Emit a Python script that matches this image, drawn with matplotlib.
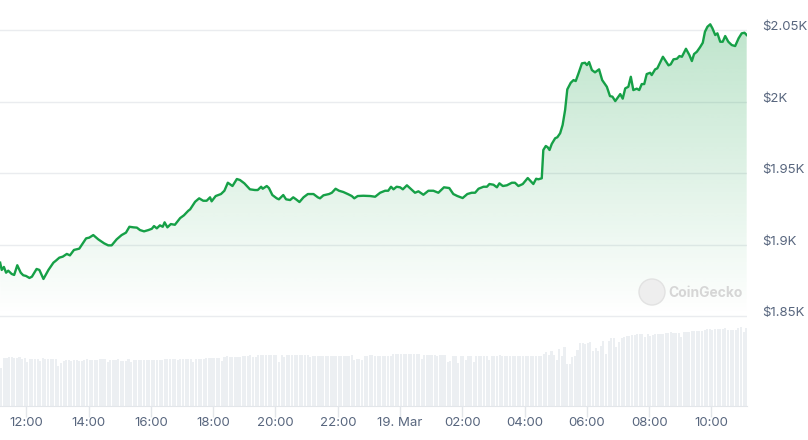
import numpy as np
import matplotlib.pyplot as plt
from matplotlib.colors import to_rgb
from matplotlib.patches import PathPatch, Ellipse

# price line, hours counted from 18 Mar 00:00
hours = [11.16, 11.21, 11.28, 11.35, 11.42, 11.53, 11.61, 11.71, 11.82, 11.90,
         11.99, 12.10, 12.18, 12.33, 12.42, 12.55, 12.71, 12.87, 12.95, 13.06,
         13.17, 13.30, 13.40, 13.53, 13.70, 13.92, 14.02, 14.15, 14.31, 14.50,
         14.63, 14.74, 14.90, 15.06, 15.20, 15.31, 15.44, 15.55, 15.65, 15.78,
         15.92, 16.03, 16.10, 16.19, 16.29, 16.38, 16.44, 16.53, 16.64, 16.77,
         16.94, 17.06, 17.20, 17.26, 17.42, 17.55, 17.68, 17.79, 17.90, 17.95,
         18.08, 18.25, 18.36, 18.47, 18.62, 18.76, 18.86, 19.00, 19.18, 19.34,
         19.43, 19.54, 19.59, 19.72, 19.79, 19.90, 20.04, 20.11, 20.25, 20.34,
         20.47, 20.57, 20.66, 20.77, 20.90, 21.04, 21.22, 21.36, 21.43, 21.54,
         21.72, 21.81, 21.93, 22.04, 22.18, 22.34, 22.45, 22.53, 22.64, 22.82,
         23.04, 23.20, 23.36, 23.52, 23.62, 23.71, 23.79, 23.89, 24.00, 24.09,
         24.22, 24.34, 24.48, 24.59, 24.75, 24.91, 25.07, 25.23, 25.41, 25.58,
         25.71, 25.84, 26.01, 26.16, 26.30, 26.41, 26.52, 26.68, 26.79, 26.87,
         27.00, 27.11, 27.19, 27.30, 27.43, 27.59, 27.69, 27.80, 27.94, 28.10,
         28.18, 28.28, 28.37, 28.44, 28.55, 28.60, 28.68, 28.74, 28.80, 28.87,
         28.98, 29.05, 29.14, 29.22, 29.30, 29.37, 29.48, 29.57, 29.64, 29.73,
         29.84, 29.94, 30.00, 30.07, 30.16, 30.26, 30.39, 30.49, 30.64, 30.74,
         30.82, 30.91, 31.01, 31.07, 31.15, 31.23, 31.33, 31.41, 31.49, 31.60,
         31.68, 31.76, 31.84, 31.92, 32.03, 32.08, 32.19, 32.26, 32.44, 32.51,
         32.62, 32.69, 32.78, 32.89, 32.97, 33.05, 33.18, 33.29, 33.37, 33.44,
         33.53, 33.63, 33.72, 33.79, 33.87, 33.96, 34.03, 34.12, 34.19, 34.28,
         34.36, 34.44, 34.54, 34.65, 34.76, 34.87, 34.97, 35.06, 35.13]

price = [1887.3, 1882.2, 1884.3, 1880.3, 1881.7, 1879.4, 1878.7, 1885.5, 1880.3, 1878.5,
         1878.0, 1876.6, 1877.5, 1882.9, 1882.2, 1875.9, 1882.2, 1887.3, 1888.7, 1890.8,
         1891.5, 1893.4, 1892.4, 1896.2, 1897.1, 1904.3, 1904.8, 1906.6, 1903.6, 1900.8,
         1899.4, 1899.4, 1903.6, 1906.6, 1908.3, 1912.4, 1912.0, 1911.8, 1910.1, 1909.2,
         1910.1, 1911.0, 1912.9, 1911.3, 1913.4, 1912.4, 1915.5, 1912.0, 1914.3, 1913.8,
         1918.5, 1920.4, 1923.6, 1924.6, 1929.9, 1932.3, 1930.6, 1930.6, 1933.0, 1930.2,
         1933.9, 1935.3, 1937.6, 1943.2, 1940.9, 1945.8, 1945.1, 1942.8, 1938.6, 1938.1,
         1938.1, 1940.4, 1939.0, 1940.9, 1939.5, 1934.6, 1932.3, 1931.6, 1934.6, 1931.6,
         1931.1, 1933.0, 1931.6, 1929.7, 1933.0, 1935.3, 1935.3, 1933.0, 1932.3, 1934.4,
         1935.3, 1936.2, 1939.0, 1937.6, 1936.7, 1935.1, 1933.9, 1932.3, 1933.9, 1934.1,
         1933.9, 1933.4, 1936.2, 1937.6, 1937.6, 1940.4, 1938.6, 1940.4, 1940.0, 1938.6,
         1941.4, 1939.0, 1936.2, 1937.2, 1934.8, 1937.6, 1937.6, 1936.2, 1940.0, 1939.5,
         1935.3, 1933.9, 1932.5, 1935.3, 1936.2, 1936.2, 1939.0, 1940.4, 1940.4, 1942.3,
         1941.8, 1940.0, 1942.8, 1940.9, 1941.4, 1943.2, 1943.2, 1940.9, 1942.3, 1946.5,
         1944.6, 1942.3, 1946.0, 1945.6, 1946.3, 1966.1, 1968.9, 1968.0, 1966.1, 1970.3,
         1974.3, 1975.0, 1977.8, 1983.6, 1994.1, 2008.5, 2013.1, 2015.0, 2014.3, 2019.7,
         2026.7, 2027.1, 2025.5, 2027.6, 2022.0, 2020.4, 2022.5, 2015.0, 2010.3, 2003.8,
         2003.4, 2000.3, 2003.4, 2005.2, 2002.0, 2009.2, 2010.3, 2017.3, 2008.0, 2009.0,
         2008.0, 2012.2, 2012.2, 2019.2, 2020.1, 2018.5, 2022.5, 2023.2, 2031.3, 2029.0,
         2025.3, 2026.0, 2029.5, 2029.9, 2031.8, 2031.3, 2036.9, 2032.5, 2028.3, 2033.2,
         2034.8, 2037.9, 2041.1, 2048.8, 2052.3, 2054.0, 2051.2, 2046.5, 2047.7, 2041.8,
         2041.8, 2045.8, 2041.8, 2039.5, 2038.8, 2044.2, 2047.7, 2048.1, 2046.5]

# volume bars (relative units), one every 5 minutes
vol_start = 11.155
vol_step = 5 / 60
volume = [38, 48, 48, 49, 49, 48, 48, 49, 47, 48, 44, 47, 47, 47, 47, 45, 48, 47, 47, 47,
          47, 47, 40, 43, 45, 46, 46, 45, 46, 46, 45, 45, 46, 47, 46, 46, 46, 46, 47, 47,
          47, 44, 46, 46, 46, 47, 45, 45, 45, 47, 44, 46, 46, 46, 46, 46, 46, 46, 46, 46,
          46, 46, 46, 47, 47, 47, 47, 47, 46, 47, 47, 47, 47, 47, 44, 47, 47, 47, 47, 48,
          48, 48, 48, 48, 48, 45, 49, 50, 49, 49, 49, 49, 49, 50, 50, 50, 51, 49, 49, 51,
          51, 51, 51, 51, 51, 51, 51, 44, 51, 49, 51, 51, 51, 51, 51, 51, 51, 51, 51, 49,
          50, 50, 50, 50, 50, 50, 50, 50, 50, 50, 50, 50, 50, 50, 50, 51, 46, 47, 47, 46,
          50, 50, 51, 51, 50, 50, 50, 50, 50, 50, 50, 52, 52, 52, 52, 52, 52, 52, 52, 52,
          52, 52, 47, 51, 51, 51, 51, 51, 50, 51, 51, 51, 44, 45, 50, 50, 43, 50, 50, 46,
          50, 50, 44, 50, 50, 50, 50, 50, 46, 50, 50, 50, 51, 50, 50, 50, 50, 50, 50, 50,
          50, 50, 50, 50, 50, 50, 50, 50, 50, 52, 54, 51, 55, 51, 46, 57, 50, 59, 42, 42,
          49, 50, 56, 63, 63, 62, 63, 64, 55, 58, 55, 60, 65, 52, 65, 68, 68, 59, 64, 68,
          69, 70, 70, 71, 71, 72, 72, 72, 69, 72, 70, 71, 72, 72, 72, 72, 73, 73, 74, 73,
          73, 73, 69, 74, 74, 74, 75, 75, 75, 75, 75, 76, 77, 77, 76, 77, 77, 77, 77, 78,
          76, 76, 76, 76, 78, 79, 74, 78]

tick_hours = [12, 14, 16, 18, 20, 22, 24, 26, 28, 30, 32, 34]
tick_labels = ["12:00", "14:00", "16:00", "18:00", "20:00", "22:00", "19. Mar",
               "02:00", "04:00", "06:00", "08:00", "10:00"]
price_ticks = [1850, 1900, 1950, 2000, 2050]
price_labels = ["$1.85K", "$1.9K", "$1.95K", "$2K", "$2.05K"]

GREEN = "#16a047"
TXT = "#58667e"
GRID = "#eaecef"
BAR = "#eceff2"

plt.rcParams["font.family"] = ["Inter", "DejaVu Sans"]

W, H = 808, 440
fig = plt.figure(figsize=(W / 100, H / 100), dpi=100)
x0, x1 = 11.155, 35.14

# price panel
ax = fig.add_axes([0, (H - 320) / H, 747 / W, 320 / H])
ax.set_xlim(x0, x1)
ax.set_ylim(1847.2, 2071.0)
for p in price_ticks:
    ax.axhline(p, color=GRID, lw=1, zorder=0)

rgba = np.zeros((256, 1, 4))
rgba[..., :3] = to_rgb(GREEN)
rgba[..., 3] = np.linspace(0.3, 0.0, 256)[:, None]
im = ax.imshow(rgba, extent=[x0, x1, 1850, 2071.0], aspect="auto",
               origin="upper", zorder=1, interpolation="bilinear")
poly = ax.fill_between(hours, price, 1850, color="none", lw=0)
clip = PathPatch(poly.get_paths()[0], facecolor="none", edgecolor="none",
                 transform=ax.transData)
ax.add_patch(clip)
im.set_clip_path(clip)

ax.plot(hours, price, color=GREEN, lw=1.7, zorder=3, solid_joinstyle="round")

ax.yaxis.tick_right()
ax.set_yticks(price_ticks, price_labels)
ax.tick_params(axis="y", length=0, pad=11, labelcolor=TXT, labelsize=9.5)
for lab in ax.get_yticklabels():
    lab.set_verticalalignment("baseline")
ax.set_xticks([])
for s in ax.spines.values():
    s.set_visible(False)

# volume panel
axv = fig.add_axes([0, 34 / H, 747 / W, 86 / H])
axv.set_xlim(x0, x1)
axv.set_ylim(0, 86)
vol_x = vol_start + vol_step * (np.arange(len(volume)) + 0.5)
axv.bar(vol_x, volume, width=vol_step * 0.8, color=BAR, lw=0)
axv.set_yticks([])
axv.set_xticks(tick_hours, tick_labels)
axv.tick_params(axis="x", length=8, width=1, color="#e3e6ea", pad=0,
                labelcolor=TXT, labelsize=9.5)
for s in ["top", "left", "right"]:
    axv.spines[s].set_visible(False)
axv.spines["bottom"].set_color("#e3e6ea")

# watermark
fig.add_artist(Ellipse((652 / W, 1 - 292 / H), 26 / W, 26 / H,
                       facecolor="#eeeeee", edgecolor="#e2e2e2", lw=1))
fig.text(668 / W, 1 - 293 / H, "CoinGecko", color="#d6d6d6", fontsize=10,
         fontweight="bold", va="center", ha="left")

fig.savefig("out.png", dpi=100)
